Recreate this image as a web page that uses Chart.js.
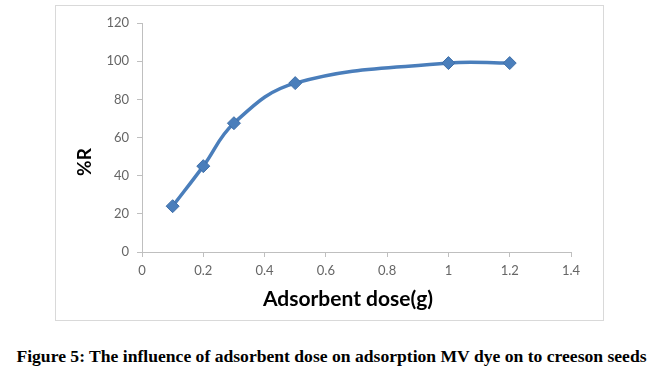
<!DOCTYPE html>
<html>
<head>
<meta charset="utf-8">
<script src="https://cdn.jsdelivr.net/npm/chart.js@4.4.1/dist/chart.umd.min.js"></script>
<style>
  body { margin: 0; background: #fff; width: 663px; height: 378px; position: relative; overflow: hidden; }
  .frame { position: absolute; left: 55px; top: 5px; width: 547px; height: 314px; border: 1px solid #d9d9d9; }
  .frame canvas { display: block; }
  .caption { position: absolute; left: 0; top: 346px; width: 663px; text-align: center;
    font-family: "Liberation Serif", serif; font-weight: bold; font-size: 17.6px; color: #000; }
</style>
</head>
<body>
<div class="frame"><canvas id="chart" width="547" height="314"></canvas></div>
<div class="caption">Figure 5: The influence of adsorbent dose on adsorption MV dye on to creeson seeds</div>
<script>
const doses = [0.1, 0.2, 0.3, 0.5, 1.0, 1.2];
const removal = [24, 45, 67.5, 88.5, 99, 99];
const xTicks = [0, 0.2, 0.4, 0.6, 0.8, 1, 1.2, 1.4];
const yTicks = [0, 20, 40, 60, 80, 100, 120];

const axisGray = '#bfbfbf';
const tickFont = { family: 'Lato', size: 13 };

// axis titles sit off-centre in the original, so they are placed by hand
const axisTitles = {
  id: 'axisTitles',
  afterDraw(chart) {
    const ctx = chart.ctx;
    ctx.save();
    ctx.fillStyle = '#000';
    ctx.textAlign = 'center';
    ctx.font = 'bold 21px Lato';
    ctx.textBaseline = 'alphabetic';
    ctx.fillText('Adsorbent dose(g)', 292, 300);
    ctx.translate(29, 156);
    ctx.rotate(-Math.PI / 2);
    ctx.font = 'bold 19px Lato';
    ctx.textBaseline = 'middle';
    ctx.fillText('%R', 0, 0);
    ctx.restore();
  }
};

new Chart(document.getElementById('chart'), {
  type: 'line',
  data: {
    datasets: [{
      data: doses.map((d, i) => ({ x: d, y: removal[i] })),
      borderColor: '#4a7ebb',
      backgroundColor: '#4a7ebb',
      borderWidth: 3.5,
      tension: 0.4,
      pointStyle: 'rectRot',
      pointRadius: 6.5,
      pointBorderColor: '#3f6fa8',
      pointBorderWidth: 1,
      fill: false
    }]
  },
  plugins: [axisTitles],
  options: {
    responsive: false,
    animation: false,
    layout: { padding: { left: 0, right: 32, top: 17, bottom: 0 } },
    plugins: { legend: { display: false }, tooltip: { enabled: false } },
    scales: {
      x: {
        type: 'linear',
        min: 0, max: 1.4,
        afterBuildTicks: s => { s.ticks = xTicks.map(v => ({ value: v })); },
        afterFit: s => { s.height = 68; },
        grid: { drawOnChartArea: false, drawTicks: true, tickLength: 5, color: axisGray },
        border: { color: axisGray },
        ticks: { color: '#666', font: tickFont, padding: 6, maxRotation: 0,
          callback: v => String(Math.round(v * 10) / 10) }
      },
      y: {
        min: 0, max: 120,
        afterBuildTicks: s => { s.ticks = yTicks.map(v => ({ value: v })); },
        afterFit: s => { s.width = 86; },
        grid: { drawOnChartArea: false, drawTicks: true, tickLength: 5, color: axisGray },
        border: { color: axisGray },
        ticks: { color: '#666', font: tickFont, padding: 8 }
      }
    }
  }
});
</script>
</body>
</html>
